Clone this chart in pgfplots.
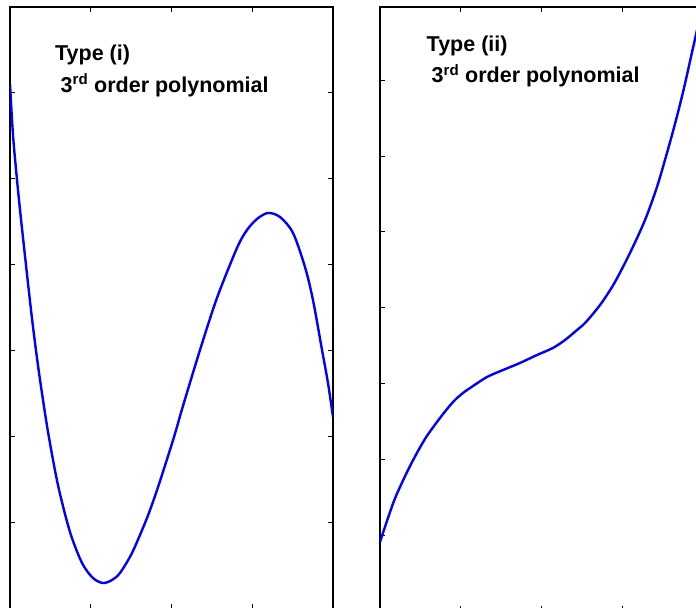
\documentclass[border=0pt]{standalone}
\usepackage{pgfplots}
\pgfplotsset{compat=1.18}
\usepackage{fontspec}
\setmainfont{Liberation Sans}

\definecolor{curveblue}{RGB}{0,0,255}

\pgfplotsset{
  panel/.style={
    scale only axis,
    width=323bp,
    xmin=0, xmax=4,
    xtick={1,2,3},
    xticklabels={}, yticklabels={},
    tick align=inside,
    major tick length=5bp,
    axis line style={line width=1.4bp, black},
    every tick/.style={black, line width=1bp},
  },
}

\begin{document}
\begin{tikzpicture}
\useasboundingbox (0,0) rectangle (696bp,608bp);
\clip (0,0) rectangle (696bp,608bp);

% Type (i): cubic with a local minimum and maximum
\begin{axis}[panel,
  at={(10bp,-1bp)}, anchor=south west,
  height=602bp,
  ymin=0, ymax=7, ytick={1,...,6}]
\addplot[curveblue, line width=2.4bp, smooth] coordinates {
  (0.000,6.105) (0.037,5.512) (0.087,4.988) (0.136,4.535) (0.198,4.000)
  (0.260,3.477) (0.310,3.093) (0.372,2.663) (0.471,2.058) (0.594,1.442)
  (0.743,0.895) (0.892,0.535) (1.028,0.360) (1.152,0.302) (1.263,0.337)
  (1.362,0.419) (1.511,0.651) (1.672,1.000) (1.734,1.151) (1.796,1.314)
  (1.882,1.558) (2.031,2.000) (2.142,2.360) (2.353,3.012) (2.563,3.616)
  (2.811,4.198) (2.935,4.407) (3.059,4.535) (3.195,4.605) (3.344,4.558)
  (3.505,4.372) (3.653,3.977) (3.752,3.593) (3.864,3.012) (3.938,2.628)
  (4.000,2.233)
};
\end{axis}

% Type (ii): monotone cubic with an inflection
\begin{axis}[panel,
  at={(380bp,-3bp)}, anchor=south west,
  height=604bp,
  ymin=0, ymax=7.968, ytick={1,...,7}]
\addplot[curveblue, line width=2.4bp, smooth] coordinates {
  (0.000,0.910) (0.099,1.227) (0.198,1.517) (0.372,1.913) (0.557,2.269)
  (0.743,2.546) (0.904,2.757) (1.028,2.876) (1.152,2.968) (1.325,3.087)
  (1.523,3.179) (1.734,3.272) (1.944,3.377) (2.142,3.470) (2.291,3.575)
  (2.440,3.707) (2.539,3.799) (2.687,3.984) (2.786,4.129) (2.910,4.340)
  (3.096,4.723) (3.282,5.158) (3.430,5.594) (3.554,6.042) (3.666,6.478)
  (3.765,6.900) (3.851,7.309) (3.926,7.665) (4.000,8.034)
};
\end{axis}

\begin{scope}[font=\fontsize{21.5bp}{25bp}\selectfont\bfseries]
  \node[anchor=base west, inner sep=0] at (55bp,547bp) {Type (i)};
  \node[anchor=base west, inner sep=0] at (60.5bp,515.5bp) {3\textsuperscript{rd} order polynomial};
  \node[anchor=base west, inner sep=0] at (426.5bp,556bp) {Type (ii)};
  \node[anchor=base west, inner sep=0] at (431.5bp,525bp) {3\textsuperscript{rd} order polynomial};
\end{scope}
\end{tikzpicture}
\end{document}
